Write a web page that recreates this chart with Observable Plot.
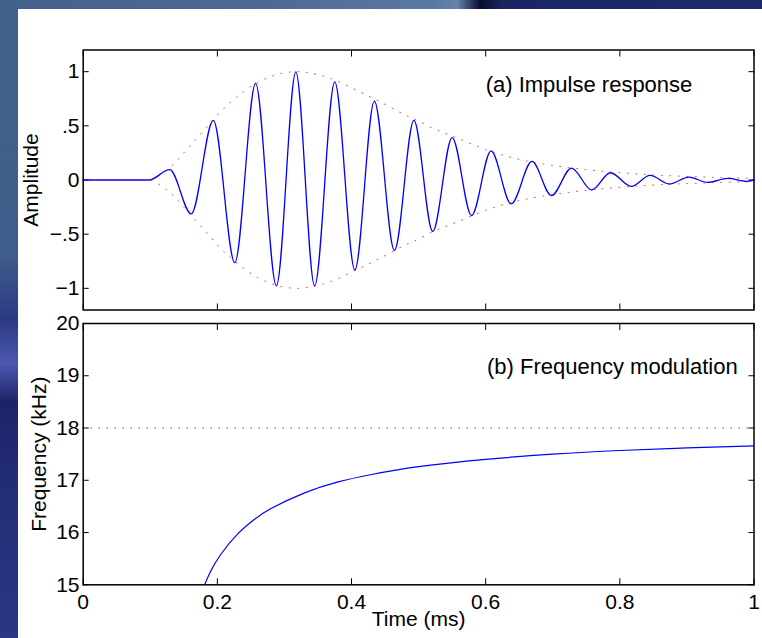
<!DOCTYPE html>
<html><head><meta charset="utf-8">
<script src="https://cdn.jsdelivr.net/npm/d3@7"></script>
<script src="https://cdn.jsdelivr.net/npm/@observablehq/plot@0.6"></script>
<style>
html,body{margin:0;padding:0;width:762px;height:638px;overflow:hidden;}
body{position:relative;background:#2a3580;font-family:"Liberation Sans",Arial,Helvetica,sans-serif;}
#topstrip{position:absolute;left:0;top:0;width:762px;height:9px;background:linear-gradient(to right,#44608c 0%,#4d6a96 35%,#5a79a2 57%,#6584ad 60%,#0a0e30 63%,#1a2562 66%,#1e2a6a 100%);}
#leftstrip{position:absolute;left:0;top:0;width:18px;height:638px;background:linear-gradient(to bottom,#44618c 0%,#405c8a 40%,#2c3a84 50%,#4b58ae 57%,#1c2468 63%,#232d76 75%,#2b3785 100%);}
#panel{position:absolute;left:18px;top:9px;width:744px;height:629px;background:#fff;}
#a{position:absolute;left:0;top:0;}
#b{position:absolute;left:0;top:316px;}
</style></head><body>
<div id="topstrip"></div><div id="leftstrip"></div><div id="panel"></div>
<div id="a"></div><div id="b"></div>
<script>
// ---- data ----
const xTicks = [0, 0.2, 0.4, 0.6, 0.8, 1];
const xTickLabels = ["0", "0.2", "0.4", "0.6", "0.8", "1"];
const ampTicks = [-1, -0.5, 0, 0.5, 1];
const ampTickLabels = ["\u22121", "\u2212.5", "0", ".5", "1"];
const freqTicks = [15, 16, 17, 18, 19, 20];
const freqTickLabels = ["15", "16", "17", "18", "19", "20"];

// impulse response: extrema of the oscillation (time ms, amplitude)
const sigT = [0, 0.098, 0.129, 0.161, 0.194, 0.226, 0.257, 0.288, 0.317, 0.345, 0.375, 0.405, 0.434, 0.464, 0.493, 0.521, 0.550, 0.579, 0.608, 0.638, 0.669, 0.698, 0.728, 0.758, 0.786, 0.817, 0.845, 0.874, 0.903, 0.931, 0.961, 0.989, 1.0];
const sigA = [0, 0, 0.095, -0.313, 0.551, -0.763, 0.891, -0.978, 0.998, -0.978, 0.906, -0.831, 0.729, -0.650, 0.551, -0.475, 0.392, -0.328, 0.269, -0.221, 0.171, -0.144, 0.110, -0.092, 0.067, -0.059, 0.042, -0.037, 0.027, -0.022, 0.015, -0.012, 0.0];

// envelope (dotted red)
const envT = [0, 0.098, 0.11, 0.12, 0.13, 0.14, 0.15, 0.16, 0.17, 0.18, 0.19, 0.2, 0.22, 0.24, 0.26, 0.28, 0.3, 0.32, 0.34, 0.36, 0.38, 0.4, 0.42, 0.44, 0.46, 0.48, 0.5, 0.52, 0.54, 0.56, 0.58, 0.6, 0.65, 0.7, 0.75, 0.8, 0.85, 0.9, 0.95, 1.0];
const envA = [0, 0, 0.03, 0.07, 0.12, 0.18, 0.25, 0.32, 0.39, 0.46, 0.53, 0.6, 0.72, 0.82, 0.9, 0.955, 0.99, 1.0, 0.985, 0.955, 0.91, 0.85, 0.79, 0.73, 0.665, 0.6, 0.545, 0.48, 0.43, 0.38, 0.33, 0.28, 0.19, 0.135, 0.095, 0.068, 0.047, 0.033, 0.023, 0.016];

// frequency modulation (time ms, kHz)
const fmT = [0.181, 0.19, 0.205, 0.23, 0.255, 0.28, 0.33, 0.38, 0.43, 0.5, 0.6, 0.7, 0.8, 0.9, 1.0];
const fmK = [15, 15.26, 15.58, 15.97, 16.25, 16.46, 16.76, 16.97, 17.11, 17.26, 17.4, 17.5, 17.57, 17.62, 17.66];
const refFreq = [18];

const titles = ["(a) Impulse response", "(b) Frequency modulation"];
const axisLabels = ["Amplitude", "Frequency (kHz)", "Time (ms)"];

// ---- tables ----
const sig = sigT.map((t, i) => ({t, v: sigA[i]}));
const env = envT.map((t, i) => ({t, v: envA[i]}));
const fm = fmT.map((t, i) => ({t, v: fmK[i]}));

const font = '"Liberation Sans", Arial, Helvetica, sans-serif';
const fmtFrom = (ticks, labels) => v => { const i = ticks.indexOf(v); return i < 0 ? "" : labels[i]; };
const blank = () => "";
const style = {fontFamily: font, fontSize: "21px", color: "#000", background: "transparent", overflow: "visible"};

const A = Plot.plot({
  width: 762, height: 316,
  marginLeft: 82.7, marginRight: 8.5, marginTop: 49.5, marginBottom: 6.5,
  x: {domain: [0, 1]},
  y: {domain: [-1.2, 1.2]},
  style,
  marks: [
    Plot.axisY({anchor: "left", ticks: ampTicks, tickSize: -6, tickPadding: 9.7, tickFormat: fmtFrom(ampTicks, ampTickLabels), label: null}),
    Plot.axisY({anchor: "right", ticks: ampTicks, tickSize: -6, tickFormat: blank, label: null}),
    Plot.axisX({anchor: "top", ticks: xTicks, tickSize: -6, tickFormat: blank, label: null}),
    Plot.axisX({anchor: "bottom", ticks: xTicks, tickSize: -6, tickFormat: blank, label: null}),
    Plot.line(sig, {x: "t", y: "v", stroke: "#0000ff", strokeWidth: 1.3, curve: "monotone-x"}),
    Plot.line(env, {x: "t", y: "v", stroke: "#ff0000", strokeOpacity: 0.75, strokeWidth: 1, strokeDasharray: "1,7.5", curve: "monotone-x"}),
    Plot.line(env, {x: "t", y: d => -d.v, stroke: "#ff0000", strokeOpacity: 0.75, strokeWidth: 1, strokeDasharray: "1,7.5", curve: "monotone-x"}),
    Plot.frame({stroke: "#000", strokeWidth: 1.5}),
    Plot.text([titles[0]], {x: 0.6, y: 0.81, text: d => d, textAnchor: "start", lineAnchor: "bottom", fontSize: 22, fill: "#000"}),
    Plot.text([axisLabels[0]], {frameAnchor: "left", dx: -44.7, rotate: -90, text: d => d, textAnchor: "middle", lineAnchor: "bottom", fontSize: 21, fill: "#000"})
  ]
});
document.getElementById("a").appendChild(A);

const B = Plot.plot({
  width: 762, height: 322,
  marginLeft: 82.7, marginRight: 8.5, marginTop: 7, marginBottom: 53.7,
  x: {domain: [0, 1]},
  y: {domain: [15, 20]},
  style,
  marks: [
    Plot.axisY({anchor: "left", ticks: freqTicks, tickSize: -6, tickPadding: 9.7, tickFormat: fmtFrom(freqTicks, freqTickLabels), label: null}),
    Plot.axisY({anchor: "right", ticks: freqTicks, tickSize: -6, tickFormat: blank, label: null}),
    Plot.axisX({anchor: "top", ticks: xTicks, tickSize: -6, tickFormat: blank, label: null}),
    Plot.axisX({anchor: "bottom", ticks: xTicks, tickSize: -6, tickPadding: 15.3, tickFormat: fmtFrom(xTicks, xTickLabels), label: null}),
    Plot.ruleY(refFreq, {stroke: "#000", strokeWidth: 1, strokeDasharray: "1,7"}),
    Plot.line(fm, {x: "t", y: "v", stroke: "#0000ff", strokeWidth: 1.2, curve: "natural", clip: true}),
    Plot.frame({stroke: "#000", strokeWidth: 1.5}),
    Plot.text([titles[1]], {x: 0.602, y: 19.03, text: d => d, textAnchor: "start", lineAnchor: "bottom", fontSize: 22, fill: "#000"}),
    Plot.text([axisLabels[1]], {frameAnchor: "left", dx: -36.7, rotate: -90, text: d => d, textAnchor: "middle", lineAnchor: "bottom", fontSize: 21, fill: "#000"}),
    Plot.text([axisLabels[2]], {frameAnchor: "bottom", dy: 40.7, text: d => d, textAnchor: "middle", lineAnchor: "bottom", fontSize: 21, fill: "#000"})
  ]
});
document.getElementById("b").appendChild(B);
</script>
</body></html>
